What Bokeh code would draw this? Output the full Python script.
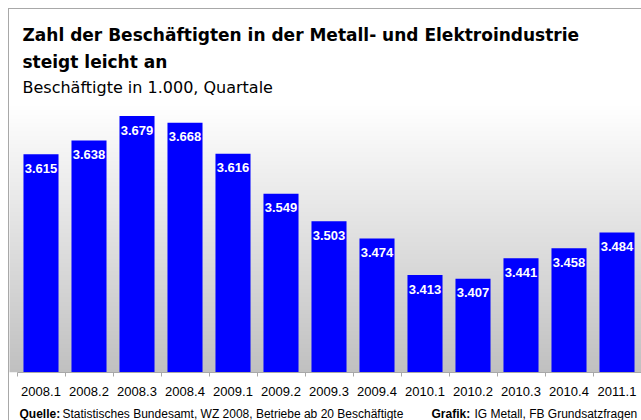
import numpy as np
from bokeh.plotting import figure
from bokeh.layouts import column
from bokeh.models import ColumnDataSource, FixedTicker, Label, Range1d
from bokeh.core.properties import value
from bokeh.embed import file_html
from bokeh.resources import INLINE

# ---- data ----
quarters = ["2008.1", "2008.2", "2008.3", "2008.4", "2009.1", "2009.2", "2009.3",
            "2009.4", "2010.1", "2010.2", "2010.3", "2010.4", "2011.1"]
employees = [3615, 3638, 3679, 3668, 3616, 3549, 3503, 3474, 3413, 3407, 3441, 3458, 3484]
y_min, y_max = 3250, 3700

title_lines = ["Zahl der Beschäftigten in der Metall- und Elektroindustrie",
               "steigt leicht an"]
subtitle = "Beschäftigte in 1.000, Quartale"
source_parts = [("Quelle:", "bold"),
                ("Statistisches Bundesamt,  WZ 2008, Betriebe ab 20 Beschäftigte", "normal"),
                ("Grafik:", "bold"),
                ("IG Metall, FB Grundsatzfragen", "normal")]

FONT = "Liberation Sans"
TFONT = "DejaVu Sans"
W = 641
HEAD_H, MAIN_H, FOOT_H = 103, 300, 17


def blank_fig(height, y_top):
    f = figure(width=W, height=height, x_range=Range1d(0, W),
               y_range=Range1d(y_top + height, y_top),
               output_backend="svg", toolbar_location=None,
               x_axis_location=None, y_axis_location=None,
               min_border=0, min_border_left=0, min_border_right=0,
               min_border_top=0, min_border_bottom=0,
               background_fill_color=None, border_fill_color=None,
               outline_line_color=None)
    f.xgrid.visible = False
    f.ygrid.visible = False
    return f


# ---------- header ----------
head = blank_fig(HEAD_H, 0)
for txt, yy, style, size in [(title_lines[0], 34, "bold", "17px"),
                             (title_lines[1], 61, "bold", "17px"),
                             (subtitle, 87, "normal", "16px")]:
    head.add_layout(Label(x=22, y=yy, text=txt, text_font=TFONT,
                          text_font_style=style, text_font_size=size,
                          text_baseline="alphabetic", text_color="black"))

# ---------- main chart ----------
n = len(quarters)
xs = list(range(1, n + 1))
labels = [f"{v / 1000:.3f}" for v in employees]
src = ColumnDataSource(dict(x=xs, top=employees, label=labels))

cat_px = 48.0
x_start = 0.5 - 16.5 / cat_px
x_end = n + 0.5 + 0.5 / cat_px
bg_start = 0.5 - 7.5 / cat_px

p = figure(width=W, height=MAIN_H,
           x_range=Range1d(x_start, x_end), y_range=Range1d(y_min, y_max),
           output_backend="svg", toolbar_location=None, y_axis_location=None,
           min_border_left=0, min_border_right=0, min_border_top=0, min_border_bottom=31,
           background_fill_color=None, border_fill_color=None,
           outline_line_color=None)
p.xgrid.visible = False
p.ygrid.visible = False

# gradient background of plot area (white top -> grey bottom)
ng = 256
t = np.linspace(0, 1, ng)
g = np.round(192 + (255 - 192) * t).astype(np.uint8)
img = np.empty((ng, 1), dtype=np.uint32)
view = img.view(dtype=np.uint8).reshape((ng, 1, 4))
view[:, 0, 0] = g
view[:, 0, 1] = g
view[:, 0, 2] = g
view[:, 0, 3] = 255
p.image_rgba(image=[img], x=bg_start, y=y_min, dw=x_end - bg_start, dh=y_max - y_min)

p.vbar(x="x", top="top", bottom=y_min, width=0.73, source=src,
       fill_color="#0000ff", line_color=None)

p.text(x="x", y="top", text="label", source=src, y_offset=14,
       text_align="center", text_baseline="middle", text_color="white",
       text_font=value(FONT), text_font_style="bold", text_font_size="13px")

ax = p.xaxis[0]
ax.bounds = (0.5, n + 0.5)
ax.ticker = FixedTicker(ticks=xs, minor_ticks=[x - 0.5 for x in xs] + [n + 0.5])
ax.major_label_overrides = {x: q for x, q in zip(xs, quarters)}
ax.axis_line_color = "#a8a8a8"
ax.major_tick_line_color = None
ax.major_tick_out = 4
ax.major_tick_in = 0
ax.minor_tick_line_color = "#a8a8a8"
ax.minor_tick_out = 4
ax.minor_tick_in = 0
ax.major_label_standoff = 10
ax.major_label_text_font = FONT
ax.major_label_text_font_size = "13px"
ax.major_label_text_color = "black"

# ---------- footer ----------
foot = blank_fig(FOOT_H, HEAD_H + MAIN_H)
foot_x = [19, 62, 431, 474]
for (txt, style), fx in zip(source_parts, foot_x):
    foot.add_layout(Label(x=fx, y=413, text=txt, text_font=FONT, text_font_style=style,
                          text_font_size="12px", text_baseline="alphabetic",
                          text_color="black"))

layout = column(head, p, foot, spacing=0,
                styles={"box-shadow": "inset 8px 8px 0 0 #ffffff, inset 9px 9px 0 0 #a8a8a8",
                        "background-color": "#ffffff"})

open("out.html", "w").write(file_html(layout, INLINE))
